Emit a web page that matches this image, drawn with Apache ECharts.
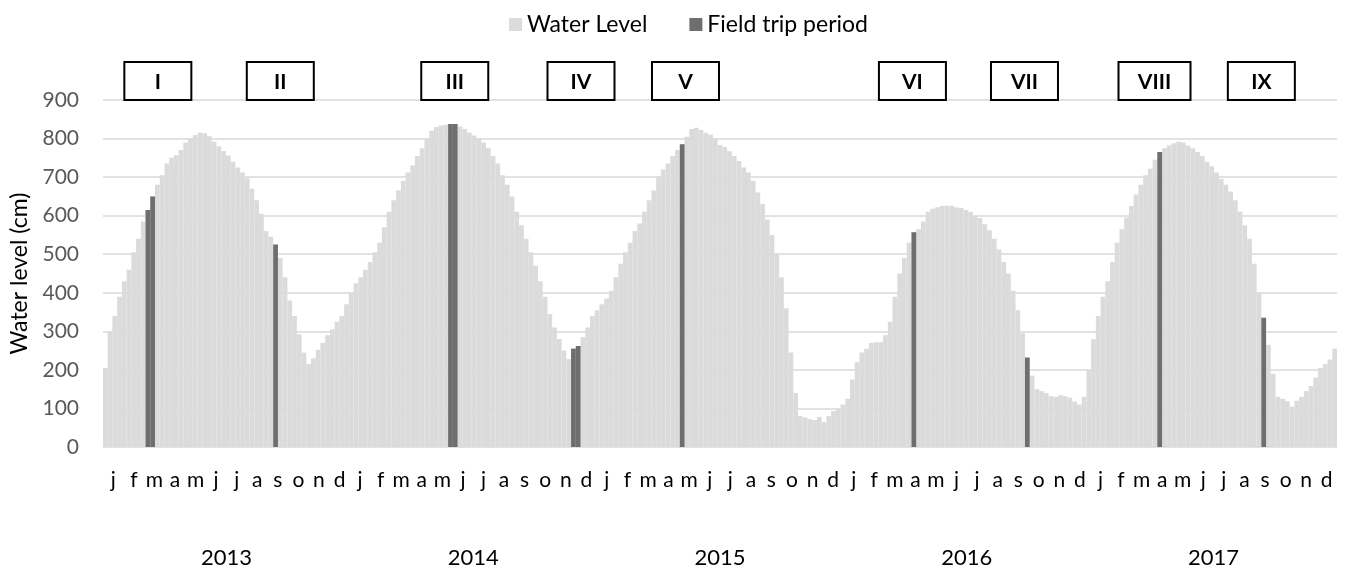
<!DOCTYPE html>
<html>
<head>
<meta charset="utf-8">
<script src="https://cdn.jsdelivr.net/npm/echarts@6/dist/echarts.min.js"></script>
<style>html,body{margin:0;padding:0;background:#fff}#c{width:1350px;height:573px}</style>
</head>
<body>
<div id="c"></div>
<script>
// Weekly water level (cm)
const level2013 = [205,300,340,390,430,460,505,540,585,615,650,680,705,735,750,757,770,790,800,809,815,814,806,792,780,768,756,740,725,712,697,670,640,605,560,545,525,490,440,380,340,292,245,215,230,252,270,290,305,325,340,370];
const level2014 = [400,425,440,460,480,505,530,570,610,640,665,690,712,730,755,775,800,820,830,834,836,838,838,831,825,815,808,800,790,775,755,735,705,680,650,610,575,540,505,470,430,390,345,310,280,250,228,255,262,285,310,340];
const level2015 = [355,370,385,405,440,475,505,530,560,580,610,640,665,700,720,735,755,770,785,805,825,828,822,815,810,800,783,778,767,755,742,725,712,690,660,630,590,550,500,440,360,245,140,80,77,72,70,78,65,80,93,100];
const level2016 = [110,125,175,220,245,255,270,272,272,290,325,390,450,490,530,557,565,585,610,618,622,625,626,626,622,620,615,610,600,594,578,562,540,512,480,450,405,355,295,232,185,150,145,140,132,130,134,132,128,118,110,130];
const level2017 = [200,280,340,390,430,480,530,565,595,625,655,680,705,722,745,765,775,782,788,792,790,782,775,765,755,740,728,712,695,680,663,640,611,575,540,475,400,335,265,190,130,125,119,105,120,130,145,158,180,205,215,227,255];
// Weeks (index from 1 Jan 2013) that fall in a field trip
const tripWeeks = [9,10,36,73,74,99,100,122,171,195,223,245];
// Field trip labels and their positions (in weeks)
const tripLabels = ['I','II','III','IV','V','VI','VII','VIII','IX'];
const tripLabelWeeks = [11.1,37.0,73.9,100.6,122.7,170.7,194.4,221.9,244.5];
const monthLabels = ['j','f','m','a','m','j','j','a','s','o','n','d'];
const years = ['2013','2014','2015','2016','2017'];

const waterLevel = [].concat(level2013, level2014, level2015, level2016, level2017);
const weeks = waterLevel.map((v, i) => 'w' + i);
const tripSeries = waterLevel.map((v, i) => tripWeeks.indexOf(i) >= 0 ? v : '-');
const months = [];
years.forEach(y => monthLabels.forEach((m, k) => months.push({value: y + '-' + k, label: m})));

const FONT = 'Lato, "Open Sans", sans-serif';
const chart = echarts.init(document.getElementById('c'), null, {renderer: 'canvas'});
const option = {
  animation: false,
  backgroundColor: '#fff',
  textStyle: {fontFamily: FONT},
  legend: {
    top: 8, left: 504,
    itemWidth: 13, itemHeight: 13, itemGap: 42,
    icon: 'rect',
    textStyle: {fontSize: 23, color: '#000', fontFamily: FONT},
    data: ['Water Level', 'Field trip period']
  },
  grid: {left: 103, right: 13, top: 100, bottom: 126, containLabel: false},
  xAxis: [
    {type: 'category', data: weeks, boundaryGap: true,
     axisLine: {show: false}, axisTick: {show: false}, axisLabel: {show: false}, splitLine: {show: false}},
    {type: 'category', data: months.map(m => m.value), position: 'bottom', boundaryGap: true,
     axisLine: {show: false}, axisTick: {show: false}, splitLine: {show: false},
     axisLabel: {interval: 0, margin: 23, fontSize: 21, color: '#000', fontFamily: FONT,
       formatter: (v, i) => months[i].label}},
    {type: 'category', data: years, position: 'bottom', boundaryGap: true,
     axisLine: {show: false}, axisTick: {show: false}, splitLine: {show: false},
     axisLabel: {interval: 0, margin: 100, fontSize: 22, color: '#000', fontFamily: FONT}}
  ],
  yAxis: {
    type: 'value', min: 0, max: 900, interval: 100,
    name: 'Water level (cm)', nameLocation: 'middle', nameGap: 70,
    nameTextStyle: {fontSize: 23, color: '#000', fontFamily: FONT},
    axisLine: {show: false}, axisTick: {show: false},
    axisLabel: {fontSize: 21, color: '#595959', margin: 24, fontFamily: FONT},
    splitLine: {lineStyle: {color: '#d9d9d9', width: 1.5}}
  },
  series: [
    {name: 'Water Level', type: 'bar', xAxisIndex: 0, data: waterLevel,
     barCategoryGap: '15%', barGap: '-100%',
     itemStyle: {color: '#dbdbdb'}},
    {name: 'Field trip period', type: 'bar', xAxisIndex: 0, data: tripSeries,
     barCategoryGap: '0%', barGap: '-100%',
     itemStyle: {color: '#6e6e6e'}}
  ]
};
chart.setOption(option);

// Roman numeral boxes above the field trips
const p0 = chart.convertToPixel({xAxisIndex: 0}, 0);
const p1 = chart.convertToPixel({xAxisIndex: 0}, 1);
const bw = p1 - p0;
const yTop = chart.convertToPixel({yAxisIndex: 0}, 900);
const graphics = tripLabels.map((lab, i) => {
  const cx = p0 + tripLabelWeeks[i] * bw;
  const w = lab.length >= 4 ? 72 : 67;
  const h = 38;
  return {
    type: 'group', x: cx - w / 2, y: yTop - h,
    children: [
      {type: 'rect', shape: {x: 0, y: 0, width: w, height: h},
       style: {fill: '#fff', stroke: '#000', lineWidth: 2}},
      {type: 'text', x: w / 2, y: h / 2 + 1,
       style: {text: lab, fill: '#000', font: 'bold 21px ' + FONT, textAlign: 'center', textVerticalAlign: 'middle'}}
    ]
  };
});
chart.setOption({graphic: graphics});
</script>
</body>
</html>
